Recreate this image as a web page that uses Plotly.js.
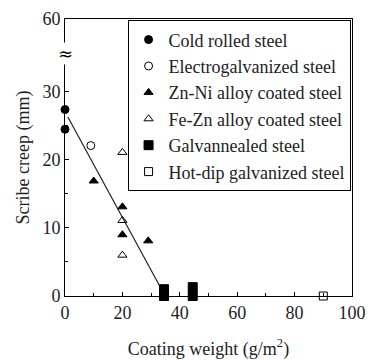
<!DOCTYPE html>
<html><head><meta charset="utf-8">
<script src="https://cdn.plot.ly/plotly-3.0.1.min.js"></script>
<style>body{margin:0;background:#fff}#chart{width:370px;height:360px}</style>
</head><body><div id="chart"></div>
<script>
// Data (coating weight g/m2, scribe creep mm)
const coldX = [0, 0];
const coldY = [27.4, 24.5];
const egX = [9];
const egY = [22.1];
const znniX = [10, 20, 20, 29];
const znniY = [16.9, 13.1, 9.0, 8.1];
const feznX = [20, 20, 20];
const feznY = [21.1, 11.1, 6.0];
const gaX = [34.5, 34.5, 44.5, 44.5];
const gaY = [0, 1, 0, 1.3];
const hdX = [90];
const hdY = [0];
const fitX = [1, 34.5];
const fitY = [26.3, 0.3];
const names = ["Cold rolled steel", "Electrogalvanized steel", "Zn-Ni alloy coated steel",
  "Fe-Zn alloy coated steel", "Galvannealed steel", "Hot-dip galvanized steel"];
const yTickVals = [0, 10, 20, 30, 40.7];
const yTickText = ["0", "10", "20", "30", "60"];
const xTickVals = [0, 20, 40, 60, 80, 100];

const font = {family: "Liberation Serif, Times New Roman, serif", size: 18, color: "#222"};
function mk(x, y, name, symbol, size, g) {
  return {x, y, name, type: "scatter", mode: "markers", legendgroup: g,
    marker: {symbol, size, color: "#000", line: {color: "#000", width: 1}},
    cliponaxis: false};
}
const traces = [
  {x: fitX, y: fitY, type: "scatter", mode: "lines", showlegend: false,
   line: {color: "#222", width: 1.2}, hoverinfo: "skip"},
  mk(coldX, coldY, names[0], "circle", 8, "a"),
  mk(egX, egY, names[1], "circle-open", 8, "b"),
  mk(znniX, znniY, names[2], "triangle-up", 8, "c"),
  mk(feznX, feznY, names[3], "triangle-up-open", 8, "d"),
  mk(gaX, gaY, names[4], "square", 9, "e"),
  mk(hdX, hdY, names[5], "square-open", 8, "f"),
];
const layout = {
  width: 370, height: 360,
  margin: {l: 65, r: 18, t: 19, b: 64},
  paper_bgcolor: "#fff", plot_bgcolor: "#fff",
  font: font,
  showlegend: true,
  legend: {x: 0.995, y: 0.995, xanchor: "right", yanchor: "top",
    bordercolor: "#000", borderwidth: 1, bgcolor: "#fff",
    font: font, traceorder: "grouped", tracegroupgap: 0, itemwidth: 30},
  xaxis: {range: [0, 100], tickvals: xTickVals, ticks: "inside", ticklen: 4,
    showline: true, linecolor: "#000", linewidth: 1, mirror: true, showgrid: false,
    zeroline: false, tickcolor: "#000",
    minor: {tickvals: [10, 30, 50, 70, 90], ticks: "inside", ticklen: 3, tickcolor: "#000"},
    title: {text: "Coating weight (g/m<sup>2</sup>)", font: font, standoff: 22}},
  yaxis: {range: [0, 40.7], tickvals: yTickVals, ticktext: yTickText, ticks: "inside", ticklen: 4,
    showline: true, linecolor: "#000", linewidth: 1, mirror: true, showgrid: false,
    zeroline: false, tickcolor: "#000",
    minor: {tickvals: [5, 15, 25], ticks: "inside", ticklen: 3, tickcolor: "#000"},
    title: {text: "Scribe creep (mm)", font: font, standoff: 8}},
  annotations: [{x: 0, y: 35.7, xref: "x", yref: "y", text: "≈", showarrow: false,
    font: {family: "DejaVu Serif, serif", size: 18, color: "#000"}, bgcolor: "#fff", borderpad: 0}]
};
Plotly.newPlot("chart", traces, layout, {displayModeBar: false, staticPlot: true});
</script></body></html>
